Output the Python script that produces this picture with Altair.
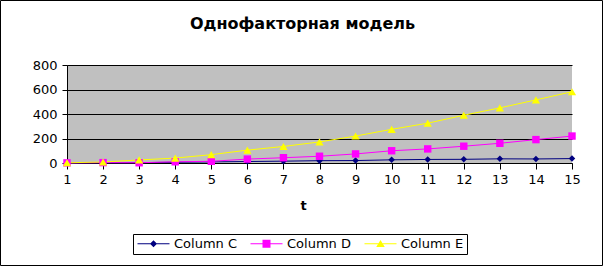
import altair as alt
import pandas as pd

t_vals = list(range(1, 16))
col_c = [1, 2, 3, 6, 9, 12, 15, 19, 20, 26, 29, 30, 34, 33, 36]
col_d = [1, 3, 2, 10, 14, 32, 43, 55, 74, 100, 115, 137, 161, 191, 220]
col_e = [2, 8, 25, 40, 68, 105, 135, 172, 220, 275, 325, 390, 450, 515, 582]
series = ["Column C", "Column D", "Column E"]
colors = ["#000080", "#ff00ff", "#ffff00"]
y_ticks = [0, 200, 400, 600, 800]

rows = []
for name, vals in zip(series, [col_c, col_d, col_e]):
    for ti, v in zip(t_vals, vals):
        rows.append({"t": ti, "value": v, "series": name, "entry": name})
df = pd.DataFrame(rows)

FONT = "DejaVu Sans"

x = alt.X("t:Q", scale=alt.Scale(domain=[1, 15], nice=False, zero=False),
          axis=alt.Axis(values=t_vals, title="t", grid=False, tickSize=6,
                        labelPadding=4, titlePadding=13, titleX=236,
                        labelFlush=False, labelOverlap=False))
y = alt.Y("value:Q", scale=alt.Scale(domain=[0, 800], nice=False),
          axis=alt.Axis(values=y_ticks, title=None, grid=True, tickSize=5,
                        labelPadding=5, labelFlush=False, labelOverlap=False))
color = alt.Color("series:N", scale=alt.Scale(domain=series, range=colors), legend=None)

lines = alt.Chart(df).mark_line(strokeWidth=1).encode(x=x, y=y, color=color)
points = alt.Chart(df).mark_point(filled=True, opacity=1).encode(
    x=x, y=y, color=color,
    shape=alt.Shape("series:N", scale=alt.Scale(domain=series, range=["diamond", "square", "triangle-up"]), legend=None),
    size=alt.Size("series:O", scale=alt.Scale(domain=series, range=[42, 68, 72]), legend=None),
)

# legend symbols: line segment with marker (unit = 5 px)
line_seg = "M-1,-0.1H5.4V0.1H-1Z"
sym_c = line_seg + "M2.2,-0.7L2.9,0L2.2,0.7L1.5,0Z"
sym_d = line_seg + "M1.4,-0.8H3V0.8H1.4Z"
sym_e = line_seg + "M2.2,-0.75L3.05,0.65L1.35,0.65Z"

leg = alt.Legend(orient="none", legendX=66, legendY=169, direction="horizontal",
                 title=None, symbolSize=100, symbolStrokeWidth=0, symbolOpacity=1,
                 labelOffset=25, labelFont=FONT, labelFontSize=13, labelColor="black",
                 columnPadding=12, padding=3, strokeColor="black", fillColor="white",
                 cornerRadius=0, rowPadding=0)

# legend-only layer: no marks drawn (empty after filter), legend comes from the explicit scale domain
legend_layer = alt.Chart(df).transform_filter("datum.t < 0").mark_point(filled=True, opacity=1).encode(
    x=alt.value(10), y=alt.value(10),
    color=alt.Color("entry:N", scale=alt.Scale(domain=series, range=colors), legend=leg),
    shape=alt.Shape("entry:N", scale=alt.Scale(domain=series, range=[sym_c, sym_d, sym_e]), legend=leg),
)

frame = alt.Chart(pd.DataFrame({"k": [0]})).mark_rect(
    fillOpacity=0, stroke="black", strokeWidth=1, clip=False
).encode(x=alt.value(-66.5), x2=alt.value(535.5), y=alt.value(-64.5), y2=alt.value(200.5))

chart = alt.layer(lines, points, legend_layer, frame).resolve_scale(
    shape="independent", color="independent"
).properties(
    width=505, height=98,
    autosize=alt.AutoSizeParams(type="none"),
    padding={"left": 67, "top": 65, "right": 33, "bottom": 104},
    title=alt.TitleParams("Однофакторная модель", font=FONT, fontSize=16,
                          fontWeight="bold", anchor="middle", frame="group",
                          baseline="alphabetic", offset=0, dy=45, dx=-17, color="black"),
    background="white",
).configure_view(fill="#c0c0c0", strokeWidth=0).configure_axis(
    domainColor="black", tickColor="black", gridColor="black", gridWidth=1,
    labelColor="black", labelFont=FONT, labelFontSize=13, titleFont=FONT,
    titleFontSize=13, titleFontWeight="bold", titleColor="black",
)

chart.save("out.html", embed_options={"renderer": "svg", "actions": False})
